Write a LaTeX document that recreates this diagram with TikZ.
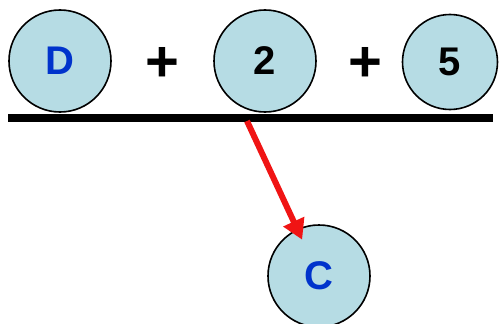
\documentclass[tikz,border=0pt]{standalone}
\usepackage{fontspec}
\setmainfont{Liberation Sans}
\definecolor{ballfill}{RGB}{182,220,228}
\definecolor{letterblue}{RGB}{0,51,204}
\definecolor{arrowred}{RGB}{240,20,20}
\usetikzlibrary{arrows.meta,positioning}

\begin{document}
\begin{tikzpicture}[x=1pt,y=-1pt,
  ball/.style={circle,draw=black,line width=1.6pt,fill=ballfill,minimum size=102pt,inner sep=0pt,
    font=\fontsize{40}{44}\selectfont\bfseries},
  plussign/.style={font=\fontsize{58}{60}\selectfont\bfseries},
  baseline/.style={line width=8pt},
  reactarr/.style={-{Triangle[length=20pt,width=22pt]},line width=6pt,arrowred}
]
  \useasboundingbox (0,0) rectangle (499,324);

  % Top row
  \node[ball,text=letterblue] (d) at (60,61) {D};
  \node[plussign] (p1) at (162,64) {+};
  \node[ball] (two) at (265,61) {2};
  \node[plussign] (p2) at (365,64) {+};
  \node[ball,minimum size=95pt] (five) at (450,62) {5};

  % Line under the row
  \coordinate (lineL) at (8,117.5);
  \coordinate (lineR) at (493,117.5);
  \draw[baseline] (lineL) -- (lineR);

  % Result
  \node[ball,text=letterblue] (c) at (319,276) {C};
  \coordinate (src) at (247,121);
  \draw[reactarr,shorten >=40pt] (src) -- (c.center);
\end{tikzpicture}
\end{document}
